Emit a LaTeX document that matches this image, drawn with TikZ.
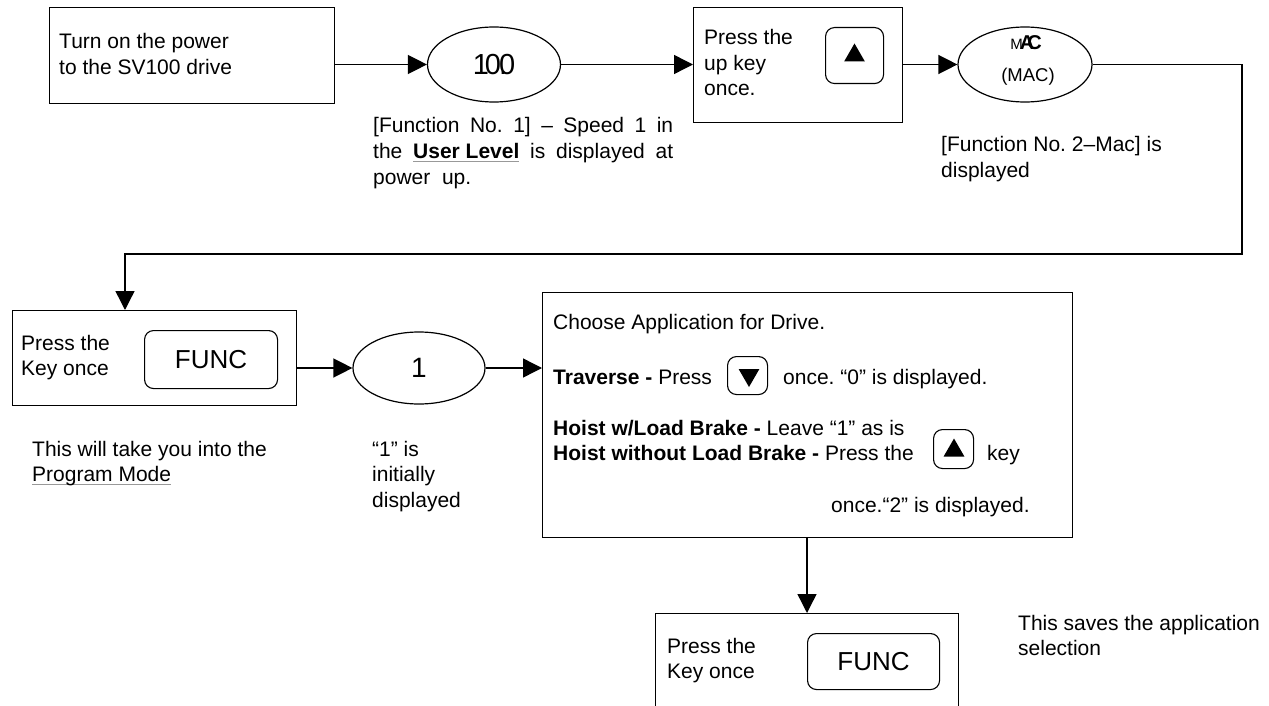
\documentclass[tikz,border=0pt]{standalone}
\usepackage{fontspec}
\setmainfont{Liberation Sans}
\usepackage{xcolor}
\usetikzlibrary{arrows.meta,shapes.geometric}
\definecolor{ulgray}{rgb}{0.6,0.6,0.6}
\frenchspacing
\newcommand{\bodyfont}{\fontsize{21}{25}\selectfont}
\newcommand{\grayline}[1]{\setbox0\hbox{#1}\rlap{\color{ulgray}\rule[-3pt]{\wd0}{0.9pt}}\box0\relax}

\tikzset{
    stepbox/.style={draw, line width=1.4pt, inner sep=0pt, anchor=north west},
    keybox/.style={draw, line width=1.1pt, rounded corners=9pt, inner sep=0pt, anchor=north west, font=\fontsize{26}{26}\selectfont},
    display/.style={draw, ellipse, line width=1.2pt, inner sep=0pt},
    flow/.style={-{Triangle[length=19pt,width=19pt]}, line width=1.4pt},
    txt/.style={anchor=base west, inner sep=0pt, font=\bodyfont},
    keytri/.style={fill, regular polygon, regular polygon sides=3, minimum size=24pt, inner sep=0pt}
}

\begin{document}
\begin{tikzpicture}[x=1pt,y=-1pt]
    \pgfmathsetmacro{\lead}{25.5} % baseline to baseline of the body text
    \useasboundingbox (0,0) rectangle (1269,706);
    \clip (0,0) rectangle (1269,706); % the last box runs off the page

    % top row
    \node[stepbox, minimum width=285pt, minimum height=96pt] (power) at (49,7) {};
    \node[txt] (powera) at (59,49) {Turn on the power};
    \node[txt] (powerb) at (59,49+\lead) {to the SV100 drive};

    \node[display, minimum width=133pt, minimum height=75pt, font=\fontsize{29}{29}\selectfont] (speed) at (494,64.5) {1\kern-4pt0\kern-2pt.\kern-8pt0};
    \node[txt] (speeda) at (373,133) {\makebox[300pt][s]{[Function No. 1] – Speed 1 in}};
    \node[txt] (speedb) at (373,133+\lead) {\makebox[300pt][s]{the \grayline{\textbf{User Level}} is displayed at}};
    \node[txt] (speedc) at (373,133+2*\lead) {power \ up.};

    \node[stepbox, minimum width=209pt, minimum height=115pt] (upstep) at (693,7) {};
    \node[txt] (upa) at (704,45) {Press the};
    \node[txt] (upb) at (704,45+\lead) {up key};
    \node[txt] (upc) at (704,45+2*\lead) {once.};
    \node[keybox, minimum width=58pt, minimum height=56pt] (upkey) at (825,27) {};
    \node[keytri] (uptri) at (854.5,55.5) {};

    \node[display, minimum width=134pt, minimum height=75pt] (mac) at (1025,64.5) {};
    \node[anchor=base, inner sep=0pt] (macglyph) at (1026,50) {{\fontsize{15}{15}\selectfont M}\kern-3pt{\fontsize{20}{20}\selectfont\bfseries A\kern-7pt C}};
    \node[anchor=base, inner sep=0pt, font=\fontsize{18.5}{18.5}\selectfont] (macname) at (1028,82) {(MAC)};
    \node[txt] (maca) at (941,152) {[Function No. 2–Mac] is};
    \node[txt] (macb) at (941,152+\lead) {displayed};

    \draw[flow] (speed.west -| power.east) -- (speed.west);
    \draw[flow] (speed.east) -- (speed.east -| upstep.west);
    \draw[flow] (mac.west -| upstep.east) -- (mac.west);

    % back round to the second row
    \coordinate (bend) at (1242,254);
    \coordinate (drop) at (125,310);
    \draw[flow] (mac.east) -| (bend) -| (drop);

    % second row
    \node[stepbox, minimum width=284pt, minimum height=95pt] (progstep) at (12,310) {};
    \node[txt] (proga) at (21,350) {Press the};
    \node[txt] (progb) at (21,350+\lead) {Key once};
    \node[keybox, minimum width=133pt, minimum height=58pt] (progkey) at (144,330) {FUNC};
    \node[txt] (progc) at (32,456) {This will take you into the};
    \node[txt] (progd) at (32,456+\lead) {\grayline{Program Mode}};

    \node[display, minimum width=132pt, minimum height=72pt, font=\fontsize{28}{28}\selectfont] (one) at (419,368) {1};
    \node[txt] (onea) at (372,456) {“1” is};
    \node[txt] (oneb) at (372,456+\lead) {initially};
    \node[txt] (onec) at (372,456+2*\lead) {displayed};

    \draw[flow] (one.west -| progstep.east) -- (one.west);
    \draw[flow] (one.east) -- (one.east -| 542,0);

    \node[stepbox, minimum width=530pt, minimum height=245pt] (appbox) at (542,292) {};
    \node[txt] (appa) at (553,329) {Choose Application for Drive.};
    \node[txt] (appb) at (553,384) {\textbf{Traverse -} Press};
    \node[keybox, minimum width=40pt, minimum height=38pt] (downkey) at (727,356) {};
    \node[keytri, shape border rotate=180] (downtri) at (749,375) {};
    \node[txt] (appc) at (783,384) {once. “0” is displayed.};
    \node[txt] (appd) at (553,435) {\textbf{Hoist w/Load Brake -} Leave “1” as is};
    \node[txt] (appe) at (553,460) {\textbf{Hoist without Load Brake -} Press the};
    \node[keybox, minimum width=40pt, minimum height=39pt] (hoistkey) at (933,429) {};
    \node[keytri] (hoisttri) at (954,450.5) {};
    \node[txt] (appf) at (987,460) {key};
    \node[txt] (appg) at (831,512) {once.“2” is displayed.};

    % last step
    \coordinate (land) at (807,613);
    \draw[flow] (land |- appbox.south) -- (land);

    \node[stepbox, minimum width=303pt, minimum height=130pt] (savestep) at (655,613) {};
    \node[txt] (savea) at (667,653) {Press the};
    \node[txt] (saveb) at (667,653+\lead) {Key once};
    \node[keybox, minimum width=132pt, minimum height=56pt] (savekey) at (807,633) {FUNC};
    \node[txt] (savec) at (1018,630) {This saves the application};
    \node[txt] (saved) at (1018,630+\lead) {selection};
\end{tikzpicture}
\end{document}
